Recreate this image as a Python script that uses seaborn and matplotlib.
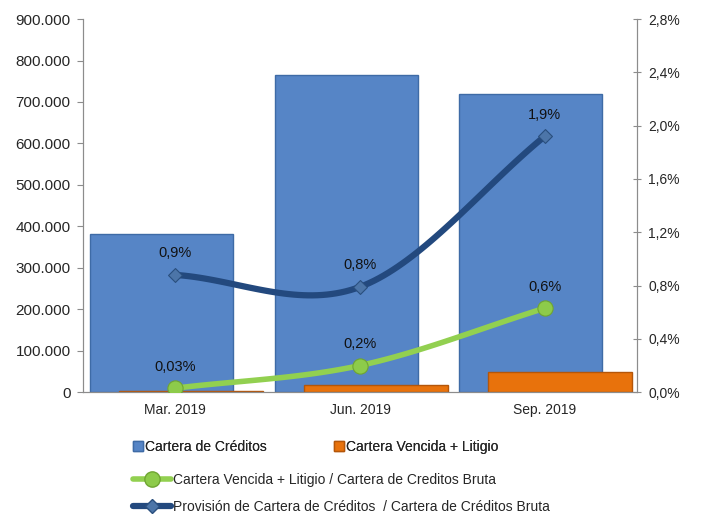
import numpy as np
import pandas as pd
import matplotlib
matplotlib.use("Agg")
import matplotlib.pyplot as plt
from matplotlib.lines import Line2D
from matplotlib.ticker import FuncFormatter
import seaborn as sns

#########################
## Data
periodos = ['Mar. 2019', 'Jun. 2019', 'Sep. 2019']
cartera_creditos = [382000, 765000, 720000]
cartera_vencida = [2000, 17000, 49000]
ratio_vencida = [0.0003, 0.002, 0.0063]
ratio_provision = [0.0088, 0.0079, 0.0192]
lbl_vencida = ['0,03%', '0,2%', '0,6%']
lbl_provision = ['0,9%', '0,8%', '1,9%']

c_blue_bar = '#5685C6'
c_orange_bar = '#E8720C'
c_green = '#92D050'
c_navy = '#23497E'
c_spine = '#8C8C8C'


def smooth(xs, ys, n=40):
    # catmull-rom style curve through the points, like excel "smoothed line"
    xs = np.asarray(xs, float)
    ys = np.asarray(ys, float)
    px = np.concatenate([[2 * xs[0] - xs[1]], xs, [2 * xs[-1] - xs[-2]]])
    py = np.concatenate([[ys[0] - (ys[1] - ys[0])], ys, [ys[-1] + (ys[-1] - ys[-2])]])
    ox, oy = [], []
    for i in range(1, len(px) - 2):
        t = np.linspace(0, 1, n)
        for arr, out in ((px, ox), (py, oy)):
            p0, p1, p2, p3 = arr[i - 1], arr[i], arr[i + 1], arr[i + 2]
            m1 = (p2 - p0) / 2
            m2 = (p3 - p1) / 2
            h00 = 2 * t**3 - 3 * t**2 + 1
            h10 = t**3 - 2 * t**2 + t
            h01 = -2 * t**3 + 3 * t**2
            h11 = t**3 - t**2
            out.extend(h00 * p1 + h10 * m1 + h01 * p2 + h11 * m2)
    return np.array(ox), np.array(oy)


sns.set_style('white')
plt.rcParams['font.family'] = ['Liberation Sans', 'DejaVu Sans']

fig = plt.figure(figsize=(7.07, 5.16), dpi=100)
ax = fig.add_axes([0.1174, 0.240, 0.7836, 0.723])
ax2 = ax.twinx()

pos = np.arange(len(periodos))

df_bars = pd.DataFrame({'pos': pos, 'creditos': cartera_creditos, 'vencida': cartera_vencida})

sns.barplot(x=df_bars['pos'] - 0.075, y=df_bars['creditos'], native_scale=True, width=0.775,
            color=c_blue_bar, saturation=1, edgecolor='#3E6BA6', linewidth=1, ax=ax)
sns.barplot(x=df_bars['pos'] + 0.085, y=df_bars['vencida'], native_scale=True, width=0.78,
            color=c_orange_bar, saturation=1, edgecolor='#B4560A', linewidth=1, ax=ax)

ax.set_xlim(-0.5, 2.5)
ax.set_ylim(0, 900000)
ax.set_yticks(np.arange(0, 900001, 100000))
ax.yaxis.set_major_formatter(FuncFormatter(lambda v, p: f'{int(v):,}'.replace(',', '.')))
ax.set_xticks(pos)
ax.set_xticklabels(periodos)
ax.set_xticks([-0.5, 0.5, 1.5, 2.5], minor=True)
ax.tick_params(axis='x', which='major', length=0, pad=8, labelsize=10)
ax.tick_params(axis='x', which='minor', length=5, color=c_spine, direction='out')
ax.tick_params(axis='y', length=4, color=c_spine, direction='out', labelsize=11, left=True, pad=5)
ax.set_xlabel('')
ax.set_ylabel('')

# lines on secondary axis
sx, sy = smooth(pos, ratio_provision)
gx, gy = smooth(pos, ratio_vencida)
sns.lineplot(x=sx, y=sy, color=c_navy, linewidth=4.5, sort=False, ax=ax2)
sns.lineplot(x=gx, y=gy, color=c_green, linewidth=4, sort=False, ax=ax2)
sns.scatterplot(x=pos, y=ratio_provision, marker='D', s=50, color='#4C75A8', edgecolor='#2A4F7E', linewidth=0.8, ax=ax2, zorder=5)
sns.scatterplot(x=pos, y=ratio_vencida, marker='o', s=120, color='#8DCB4A', edgecolor='#6FA532', linewidth=0.8, ax=ax2, zorder=5)

for xi, yi, t in zip(pos, ratio_provision, lbl_provision):
    ax2.text(xi, yi + 0.0011, t, ha='center', va='bottom', fontsize=10.5, color='#111111')
for xi, yi, t in zip(pos, ratio_vencida, lbl_vencida):
    ax2.text(xi, yi + 0.0011, t, ha='center', va='bottom', fontsize=10.5, color='#111111')

ax2.set_ylim(0, 0.028)
ax2.set_yticks(np.arange(0, 0.02801, 0.004))
ax2.yaxis.set_major_formatter(FuncFormatter(lambda v, p: f'{v * 100:.1f}%'.replace('.', ',')))
ax2.tick_params(axis='y', length=6, color=c_spine, direction='inout', labelsize=10, right=True, pad=5)
ax2.set_ylabel('')
ax2.grid(False)
ax.grid(False)

for a in (ax, ax2):
    for side in ('left', 'right', 'bottom'):
        a.spines[side].set_visible(True)
        a.spines[side].set_color(c_spine)
        a.spines[side].set_linewidth(0.8)
    a.spines['top'].set_visible(False)

# legends
h_bars = [Line2D([], [], marker='s', linestyle='', markersize=7, markerfacecolor=c_blue_bar, markeredgecolor='#3E6BA6'),
          Line2D([], [], marker='s', linestyle='', markersize=7, markerfacecolor=c_orange_bar, markeredgecolor='#B4560A')]
leg1 = fig.legend(h_bars, ['Cartera de Créditos', 'Cartera Vencida + Litigio'], ncol=2,
                  loc='center left', bbox_to_anchor=(0.188, 0.134), frameon=False, fontsize=10,
                  handlelength=0.8, handletextpad=0.1, columnspacing=4.75, borderaxespad=0, borderpad=0)
h_lines = [Line2D([], [], color=c_green, linewidth=4, marker='o', markersize=11, markerfacecolor='#8DCB4A', markeredgecolor='#6FA532'),
           Line2D([], [], color=c_navy, linewidth=4.5, marker='D', markersize=7, markerfacecolor='#4C75A8', markeredgecolor='#2A4F7E')]
fig.legend(h_lines, ['Cartera Vencida + Litigio / Cartera de Creditos Bruta',
                     'Provisión de Cartera de Créditos  / Cartera de Créditos Bruta'],
           loc='center left', bbox_to_anchor=(0.188, 0.044), frameon=False, fontsize=10,
           handlelength=2.75, handletextpad=0.15, labelspacing=0.95, borderaxespad=0, borderpad=0)
fig.add_artist(leg1)

fig.savefig('out.png', dpi=100)
